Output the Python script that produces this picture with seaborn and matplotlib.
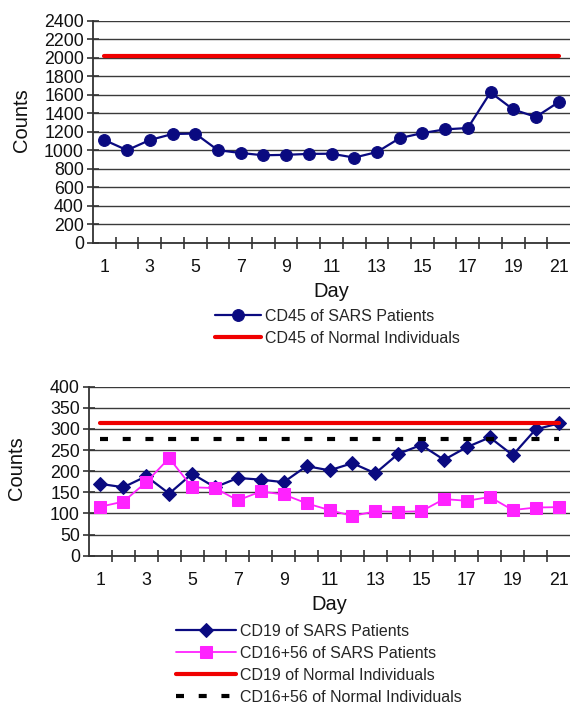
import numpy as np
import pandas as pd
import matplotlib
matplotlib.use("Agg")
import matplotlib.pyplot as plt
import seaborn as sns
from matplotlib.ticker import FixedLocator

# Days of follow-up
days = list(range(1, 22))
day_labels = ["1", "3", "5", "7", "9", "11", "13", "15", "17", "19", "21"]

# CD45 counts
cd45_sars = [1110, 1000, 1110, 1175, 1180, 1000, 970, 945, 950, 960, 962,
             920, 980, 1130, 1185, 1225, 1240, 1625, 1440, 1360, 1520]
cd45_normal = 2020

# CD19 and CD16+56 counts
cd19_sars = [170, 162, 188, 147, 194, 162, 184, 180, 174, 212, 202,
             219, 195, 241, 262, 227, 257, 280, 238, 299, 313]
cd1656_sars = [116, 128, 174, 231, 162, 160, 131, 152, 145, 124, 108,
               94, 105, 104, 105, 134, 130, 139, 108, 114, 115]
cd19_normal = 315
cd1656_normal = 277

NAVY = "#0a0a80"
MAGENTA = "#ff22ff"
RED = "#f00000"
AXIS = "#333333"

sns.set_theme(style="white")
plt.rcParams["font.family"] = ["Liberation Sans", "DejaVu Sans"]

fig = plt.figure(figsize=(5.7, 7.05), dpi=100)
W, H = 570, 705


def place(left, top, right, bottom):
    return [left / W, 1 - bottom / H, (right - left) / W, (bottom - top) / H]


ax1 = fig.add_axes(place(93, 20.7, 570, 242.7))
ax2 = fig.add_axes(place(89, 386.7, 570, 555.7))


def style_axes(ax, ymax, ystep, label_y):
    ax.set_xlim(0.5, 21.5)
    ax.set_ylim(0, ymax)
    ax.set_yticks(np.arange(0, ymax + 1, ystep))
    ax.yaxis.grid(True, color="#3a3a3a", linewidth=1.0)
    ax.xaxis.grid(False)
    ax.set_axisbelow(True)
    for s in ["top", "right"]:
        ax.spines[s].set_visible(False)
    for s in ["left", "bottom"]:
        ax.spines[s].set_color(AXIS)
        ax.spines[s].set_linewidth(1.3)
    ax.set_xticks([int(d) for d in day_labels])
    ax.set_xticklabels(day_labels)
    ax.xaxis.set_minor_locator(FixedLocator(np.arange(1.5, 21, 1)))
    ax.tick_params(axis="x", which="major", length=0, pad=12,
                   labelsize=12.8, labelcolor="#111111")
    ax.tick_params(axis="x", which="minor", bottom=True, direction="inout",
                   length=9, width=1.2, color=AXIS)
    ax.tick_params(axis="y", which="major", left=True, direction="inout",
                   length=9, width=1.2, color=AXIS, pad=2,
                   labelsize=12.8, labelcolor="#111111")
    ax.set_xlabel("Day", fontsize=14.5, labelpad=4, color="#111111")
    ax.set_ylabel("Counts", fontsize=14.5, color="#111111")
    ax.yaxis.set_label_coords(-0.13, label_y)


# Top panel: CD45
sns.lineplot(x=days, y=cd45_sars, ax=ax1, color=NAVY, linewidth=1.6,
             marker="o", markersize=8.5, markeredgecolor=NAVY,
             label="CD45 of SARS Patients")
sns.lineplot(x=days, y=[cd45_normal] * len(days), ax=ax1, color=RED,
             linewidth=3.0, label="CD45 of Normal Individuals")
style_axes(ax1, 2400, 200, 0.55)

# Bottom panel: CD19 and CD16+56
sns.lineplot(x=days, y=cd19_sars, ax=ax2, color=NAVY, linewidth=1.6,
             marker="D", markersize=7.3, markeredgecolor=NAVY,
             label="CD19 of SARS Patients")
sns.lineplot(x=days, y=cd1656_sars, ax=ax2, color=MAGENTA, linewidth=1.3,
             marker="s", markersize=8, markeredgecolor=MAGENTA,
             label="CD16+56 of SARS Patients")
sns.lineplot(x=days, y=[cd19_normal] * len(days), ax=ax2, color=RED,
             linewidth=3.0, label="CD19 of Normal Individuals")
sns.lineplot(x=days, y=[cd1656_normal] * len(days), ax=ax2, color="black",
             linewidth=3.0, linestyle=(0, (1.92, 3.53)),
             label="CD16+56 of Normal Individuals")
style_axes(ax2, 400, 50, 0.52)

for ax in (ax1, ax2):
    for line in ax.get_lines():
        line.set_clip_on(False)

ax1.legend(loc="upper left", bbox_to_anchor=(215 / W, 1 - 309 / H),
           bbox_transform=fig.transFigure, frameon=False, borderpad=0,
           fontsize=11.5, handlelength=2.9, handletextpad=0.25,
           labelspacing=0.42, borderaxespad=0)
ax2.legend(loc="upper left", bbox_to_anchor=(176 / W, 1 - 624 / H),
           bbox_transform=fig.transFigure, frameon=False, borderpad=0,
           fontsize=11.5, handlelength=3.75, handletextpad=0.25,
           labelspacing=0.43, borderaxespad=0)

fig.savefig("out.png", dpi=100)
